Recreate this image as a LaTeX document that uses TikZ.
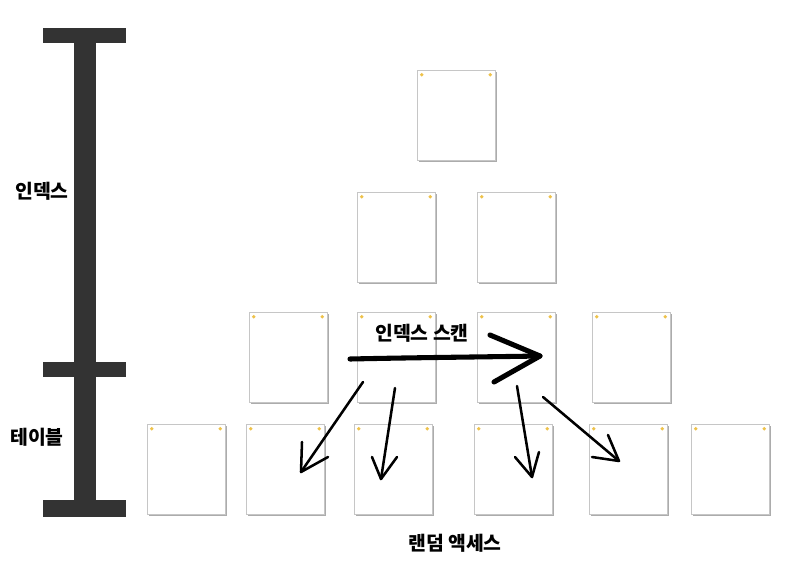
\documentclass[tikz,border=0pt]{standalone}
\usepackage{fontspec}
\setmainfont{Noto Sans CJK KR}
\usetikzlibrary{shadows}
\definecolor{barc}{HTML}{333333}
\definecolor{pinc}{HTML}{EEC24A}
\tikzset{
  page/.style={draw=gray!45, line width=0.4pt, fill=white, minimum width=58.5pt, minimum height=67.5pt, inner sep=0pt,
    drop shadow={shadow xshift=1.6pt, shadow yshift=-1.6pt, fill=gray!65, opacity=1}},
  pin/.style={fill=pinc},
  bar/.style={fill=barc},
  lbl/.style={font=\fontsize{14.5}{16}\selectfont\bfseries, inner sep=0pt},
  bigarrow/.style={line width=3.8pt, line cap=round, line join=round},
  thinarrow/.style={line width=1.9pt, line cap=round, line join=round}
}
\begin{document}
\begin{tikzpicture}[x=0.75pt, y=-0.75pt]
\useasboundingbox (0,0) rectangle (794,565);
% bar
\fill[bar] (74,28) rectangle (96,517);
\fill[bar] (43,28) rectangle (126,43);
\fill[bar] (43,362) rectangle (126,377);
\fill[bar] (43,500) rectangle (126,517);
% labels
\node[lbl] (lidx) at (42,191) {인덱스};
\node[lbl] (ltbl) at (37,437) {테이블};
% pages
\foreach \n/\x/\y in {t/456/115,
  a1/396/237, a2/516/237,
  b1/288/357, b2/396/357, b3/516/357, b4/631/357,
  c1/186/469, c2/285/469, c3/393/469, c4/513/469, c5/628/469, c6/730/469} {
  \node[page] (\n) at (\x,\y) {};
  \fill[pin] ([shift={(5,5)}]\n.north west) circle (1.4pt);
  \fill[pin] ([shift={(-5,5)}]\n.north east) circle (1.4pt);
}
% scan label
\node[lbl] (lscan) at (422,333) {인덱스 스캔};
\node[lbl] (lrand) at (455,543) {랜덤 액세스};
% big arrow
\coordinate (s0) at (350,359);
\coordinate (s1) at (540,356);
\coordinate (h1) at (490,335);
\coordinate (h2) at (494,382);
\draw[bigarrow] (s0) .. controls (420,357.5) and (480,357) .. (s1);
\draw[bigarrow] (h1) -- (s1) -- (h2);
% thin arrows
\coordinate (p1s) at (363,382); \coordinate (p1e) at (301,472);
\coordinate (p1a) at (302,442); \coordinate (p1b) at (328,457);
\draw[thinarrow] (p1s) -- (p1e);
\draw[thinarrow] (p1a) -- (p1e) -- (p1b);
\coordinate (p2s) at (395,388); \coordinate (p2e) at (381,479);
\coordinate (p2a) at (372,457); \coordinate (p2b) at (397,457);
\draw[thinarrow] (p2s) -- (p2e);
\draw[thinarrow] (p2a) -- (p2e) -- (p2b);
\coordinate (p3s) at (517,386); \coordinate (p3e) at (532,477);
\coordinate (p3a) at (515,457); \coordinate (p3b) at (539,452);
\draw[thinarrow] (p3s) -- (p3e);
\draw[thinarrow] (p3a) -- (p3e) -- (p3b);
\coordinate (p4s) at (543,397); \coordinate (p4e) at (619,461);
\coordinate (p4a) at (608,435); \coordinate (p4b) at (592,457);
\draw[thinarrow] (p4s) -- (p4e);
\draw[thinarrow] (p4a) -- (p4e) -- (p4b);
\end{tikzpicture}
\end{document}
